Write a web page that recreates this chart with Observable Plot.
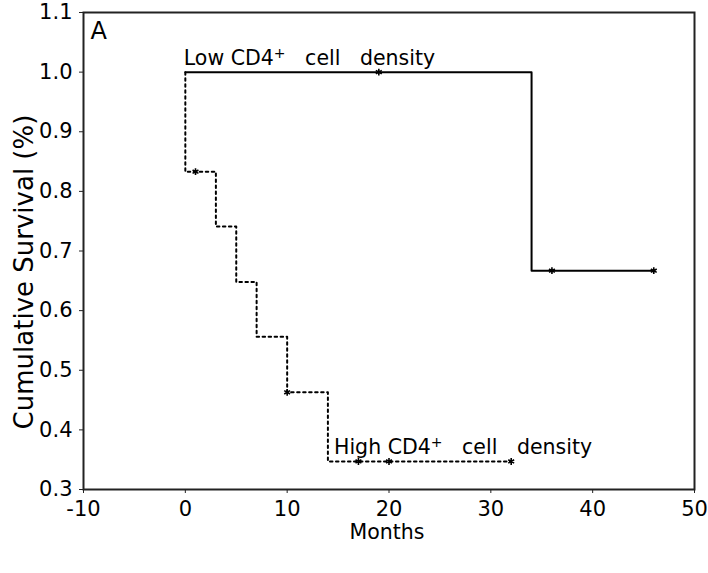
<!DOCTYPE html>
<html>
<head>
<meta charset="utf-8">
<script src="https://cdn.jsdelivr.net/npm/d3@7"></script>
<script src="https://cdn.jsdelivr.net/npm/@observablehq/plot@0.6"></script>
<style>
  body { margin: 0; background: #fff; }
  #chart svg text { white-space: pre; }
</style>
</head>
<body>
<div id="chart"></div>
<script>
// Kaplan–Meier step data (months, cumulative survival)
const lowTimes = [0, 34, 46];
const lowSurv = [1.0, 0.667, 0.667];
const highTimes = [0, 0, 3, 5, 7, 10, 14, 32];
const highSurv = [1.0, 0.833, 0.741, 0.648, 0.556, 0.463, 0.347, 0.347];
// censored observations
const lowCensorTimes = [19, 36, 46];
const lowCensorSurv = [1.0, 0.667, 0.667];
const highCensorTimes = [1, 10, 17, 20, 32];
const highCensorSurv = [0.833, 0.463, 0.347, 0.347, 0.347];
// ticks
const xTicks = [-10, 0, 10, 20, 30, 40, 50];
const yTicks = [0.3, 0.4, 0.5, 0.6, 0.7, 0.8, 0.9, 1.0, 1.1];
// curve labels ("+" is drawn as a superscript)
const labelTexts = ["Low CD4+   cell   density", "High CD4+   cell   density"];
const labelX = [-0.15, 14.6];
const labelY = [1.012, 0.359];

const low = lowTimes.map((t, i) => ({t, s: lowSurv[i]}));
const high = highTimes.map((t, i) => ({t, s: highSurv[i]}));
const censors = [
  ...lowCensorTimes.map((t, i) => ({t, s: lowCensorSurv[i]})),
  ...highCensorTimes.map((t, i) => ({t, s: highCensorSurv[i]}))
];
const labels = labelTexts.map((text, i) => ({text, x: labelX[i], y: labelY[i]}));

const font = "'DejaVu Sans', Verdana, sans-serif";

const plot = Plot.plot({
  width: 708,
  height: 573,
  marginLeft: 83,
  marginRight: 14,
  marginTop: 12,
  marginBottom: 84,
  style: {fontFamily: font, background: "#fff", color: "#000"},
  x: {domain: [-10, 50]},
  y: {domain: [0.3, 1.1]},
  marks: [
    Plot.frame({stroke: "#222", strokeWidth: 2}),
    Plot.axisX({ticks: xTicks, tickSize: 4, tickPadding: 8, fontSize: 21, stroke: "#222", tickFormat: d => String(d), label: null}),
    Plot.axisY({ticks: yTicks, tickSize: 4, tickPadding: 7, fontSize: 21, tickFormat: d3.format(".1f"), stroke: "#222", label: null}),
    Plot.line(high, {x: "t", y: "s", curve: "step-after", stroke: "#000", strokeWidth: 2, strokeDasharray: "2.5,3.5"}),
    Plot.line(low, {x: "t", y: "s", curve: "step-after", stroke: "#000", strokeWidth: 2}),
    Plot.dot(censors, {x: "t", y: "s", symbol: "asterisk", r: 3.2, stroke: "#000", strokeWidth: 1.6}),
    Plot.text(labels, {x: "x", y: "y", text: "text", textAnchor: "start", lineAnchor: "bottom", fontSize: 20.5, fill: "#000", className: "cd4label"}),
    Plot.text(["A"], {frameAnchor: "top-left", textAnchor: "start", lineAnchor: "top", dx: 7, dy: 9, fontSize: 24, fill: "#000"}),
    Plot.text(["Months"], {frameAnchor: "bottom", textAnchor: "middle", lineAnchor: "bottom", dx: -2, dy: 49, fontSize: 20.5, fill: "#000"}),
    Plot.text(["Cumulative Survival (%)"], {frameAnchor: "left", textAnchor: "middle", lineAnchor: "bottom", dx: -51, dy: 21, rotate: -90, fontSize: 26, fill: "#000"})
  ]
});
document.getElementById("chart").appendChild(plot);

// turn the "+" in the curve labels into a raised superscript
d3.select(plot).selectAll(".cd4label text").each(function() {
  const full = this.textContent;
  const k = full.indexOf("+");
  if (k < 0) return;
  const el = d3.select(this);
  el.text(null);
  el.append("tspan").text(full.slice(0, k));
  el.append("tspan").attr("font-size", 14).attr("dy", -7).text("+");
  el.append("tspan").attr("dy", 7).text(full.slice(k + 1));
});
</script>
</body>
</html>
